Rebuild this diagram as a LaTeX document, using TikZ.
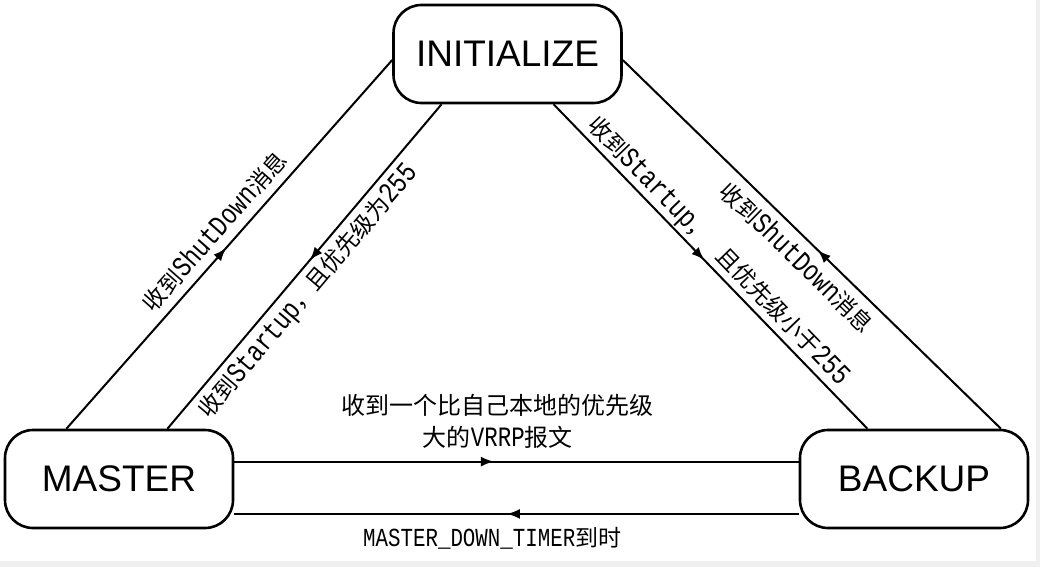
\documentclass[tikz,border=0pt]{standalone}
\usepackage{fontspec}
\setmainfont{Liberation Sans}
\newfontfamily\cjkfont{Noto Sans CJK SC}
\newfontfamily\latfont{Liberation Mono}[FakeStretch=0.8]
\usetikzlibrary{arrows.meta,decorations.markings,calc}
\newcommand\La[2][29]{{\latfont\fontsize{#1}{30}\selectfont #2}}
\begin{document}
\begin{tikzpicture}[x=1pt,y=-1pt,
  statebox/.style={draw, line width=2.6pt, rounded corners=28pt, minimum width=228pt, minimum height=98pt,
    font=\fontsize{37}{40}\selectfont, inner sep=0pt},
  conn/.style={line width=2pt},
  fwd/.style={postaction={decorate,decoration={markings,mark=at position #1 with {\arrow{Latex[length=13pt,width=10pt]}}}}},
  bwd/.style={postaction={decorate,decoration={markings,mark=at position #1 with {\arrowreversed{Latex[length=13pt,width=10pt]}}}}},
  lab/.style={font=\cjkfont\fontsize{23}{28}\selectfont, inner sep=2pt},
]
\fill[white] (0,0) rectangle (1040,567);
\fill[gray!12] (0,561) rectangle (1040,567);
\fill[gray!12] (1036,0) rectangle (1040,561);
\useasboundingbox (0,0) rectangle (1040,567);

\node[statebox] (I) at (507.5,54) {INITIALIZE};
\node[statebox] (M) at (119,479) {MASTER};
\node[statebox] (B) at (914,479) {BACKUP};

\coordinate (m1) at ($(M.north west)!0.272!(M.north east)$);
\coordinate (m2) at ($(M.north west)!0.71!(M.north east)$);
\coordinate (i1) at ($(I.north west)!0.56!(I.south west)$);
\coordinate (i2) at ($(I.south west)!0.214!(I.south east)$);
\coordinate (i3) at ($(I.south west)!0.70!(I.south east)$);
\coordinate (i4) at ($(I.north east)!0.56!(I.south east)$);
\coordinate (b1) at ($(B.north west)!0.298!(B.north east)$);
\coordinate (b2) at ($(B.north west)!0.877!(B.north east)$);
\coordinate (m3) at ($(M.north east)!0.327!(M.south east)$);
\coordinate (m4) at ($(M.north east)!0.847!(M.south east)$);
\coordinate (b3) at ($(B.north west)!0.327!(B.south west)$);
\coordinate (b4) at ($(B.north west)!0.847!(B.south west)$);

\draw[conn, fwd=0.49] (m1) -- node[lab, sloped, above=6pt, pos=0.5]{收到\La{ShutDown}消息} (i1);
\draw[conn, bwd=0.52] (m2) -- node[lab, sloped, below=4pt, pos=0.46]{收到\La{Startup}，且优先级为\La{255}} (i2);
\draw[conn, fwd=0.48] (i3) -- node[lab, sloped, above=1pt, pos=0.27, inner sep=0pt]{收到\La{Startup}，}
  node[lab, sloped, above=4pt, pos=0.69]{且优先级小于\La{255}} (b1);
\draw[conn, bwd=0.516] (i4) -- node[lab, sloped, below=5pt, pos=0.497]{收到\La{ShutDown}消息} (b2);
\draw[conn, fwd=0.46] (m3) -- node[lab, above=10pt, pos=0.467, align=center, font=\cjkfont\fontsize{24}{32}\selectfont]
  {收到一个比自己本地的优先级\\大的\La[28]{VRRP}报文} (b3);
\draw[conn, bwd=0.483] (m4) -- node[lab, below=10pt, pos=0.457]{\La[26]{MASTER\_DOWN\_TIMER}到时} (b4);
\end{tikzpicture}
\end{document}
